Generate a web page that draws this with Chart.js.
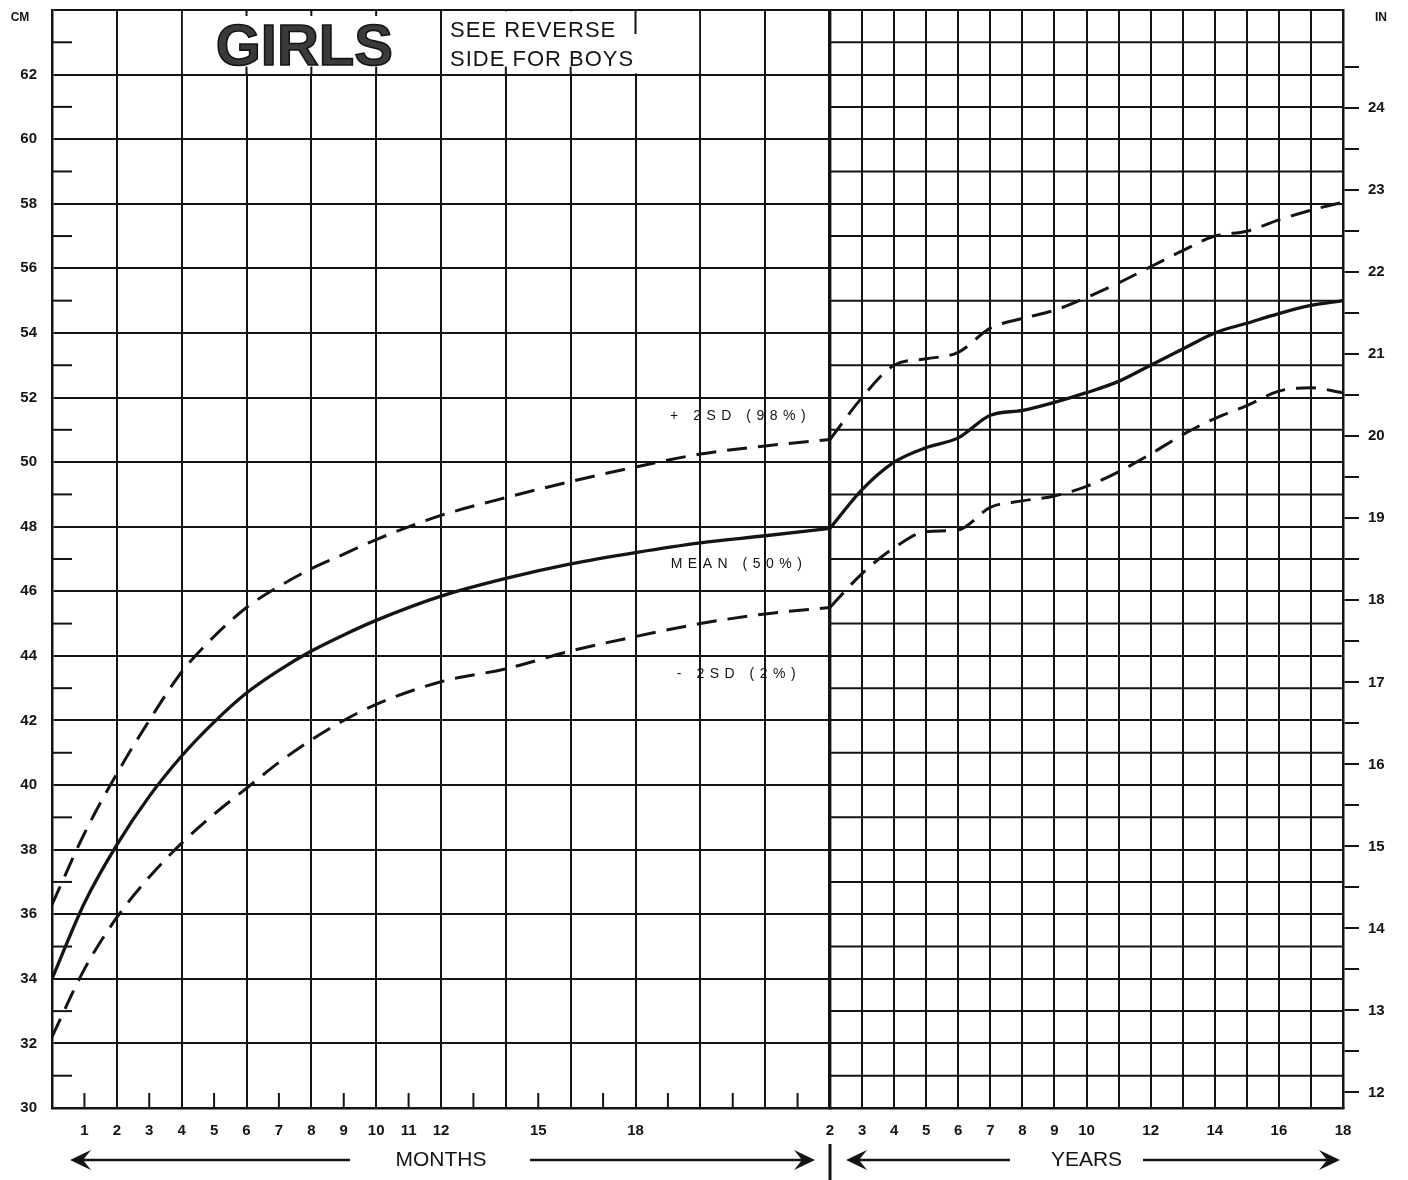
<!DOCTYPE html>
<html><head><meta charset="utf-8">
<script src="https://cdn.jsdelivr.net/npm/chart.js@4.4.1/dist/chart.umd.min.js"></script>
<style>html,body{margin:0;padding:0;background:#fff;}canvas{display:block;}</style>
</head><body>
<canvas id="c" width="1408" height="1180"></canvas>
<script>
// ---------- data ----------
const monthsX     = [0, 1, 2, 3, 4, 5, 6, 7, 8, 9, 10, 12, 14, 16, 18, 20, 22, 24];
const meanMonths  = [34.0, 36.35, 38.15, 39.65, 40.9, 41.95, 42.85, 43.55, 44.15, 44.65, 45.1, 45.85, 46.4, 46.85, 47.2, 47.5, 47.72, 47.95];
const upperMonths = [36.3, 38.5, 40.35, 42.0, 43.5, 44.6, 45.5, 46.15, 46.7, 47.15, 47.6, 48.35, 48.9, 49.4, 49.85, 50.25, 50.5, 50.7];
const lowerMonths = [32.2, 34.3, 35.9, 37.15, 38.2, 39.1, 39.9, 40.7, 41.4, 42.0, 42.5, 43.2, 43.6, 44.15, 44.6, 45.0, 45.3, 45.5];

const yearsX      = [2, 3, 4, 5, 6, 7, 8, 9, 10, 11, 12, 13, 14, 15, 16, 17, 18];
const meanYears   = [47.95, 49.15, 50.0, 50.45, 50.75, 51.45, 51.6, 51.85, 52.15, 52.5, 53.0, 53.5, 54.0, 54.3, 54.6, 54.85, 55.0];
const upperYears  = [50.7, 52.0, 53.0, 53.2, 53.4, 54.15, 54.45, 54.7, 55.1, 55.55, 56.05, 56.55, 57.0, 57.15, 57.5, 57.8, 58.05];
const lowerYears  = [45.5, 46.55, 47.35, 47.85, 47.9, 48.6, 48.8, 48.95, 49.25, 49.7, 50.25, 50.85, 51.35, 51.75, 52.2, 52.3, 52.15];

// ---------- ticks ----------
const cmTicks       = [30, 32, 34, 36, 38, 40, 42, 44, 46, 48, 50, 52, 54, 56, 58, 60, 62, 64];
const cmOddTicks    = [31, 33, 35, 37, 39, 41, 43, 45, 47, 49, 51, 53, 55, 57, 59, 61, 63];
const inchTicks     = [12, 12.5, 13, 13.5, 14, 14.5, 15, 15.5, 16, 16.5, 17, 17.5, 18, 18.5, 19, 19.5, 20, 20.5, 21, 21.5, 22, 22.5, 23, 23.5, 24, 24.5];
const monthTicks    = [0, 1, 2, 3, 4, 5, 6, 7, 8, 9, 10, 11, 12, 13, 14, 15, 16, 17, 18, 19, 20, 21, 22, 23, 24];
const monthLabels   = [1, 2, 3, 4, 5, 6, 7, 8, 9, 10, 11, 12, 15, 18];
const oddMonthTicks = [1, 3, 5, 7, 9, 11, 13, 15, 17, 19, 21, 23];
const yearTicks     = [2, 3, 4, 5, 6, 7, 8, 9, 10, 11, 12, 13, 14, 15, 16, 17, 18];
const yearLabels    = [2, 3, 4, 5, 6, 7, 8, 9, 10, 12, 14, 16, 18];
const CM_PER_INCH = 2.54;
const CM_MIN = 30, CM_MAX = 64;

// ---------- style ----------
const INK = '#141414';
const FONT = '"Liberation Sans", Arial, sans-serif';
Chart.defaults.font.family = FONT;
Chart.defaults.color = INK;

const pts = (xs, ys) => xs.map((x, i) => ({x, y: ys[i]}));
const solid = {borderColor: INK, borderWidth: 3.3, pointRadius: 0, cubicInterpolationMode: 'monotone', fill: false};
const dashed = {borderColor: INK, borderWidth: 3, borderDash: [20, 11], borderCapStyle: 'butt', pointRadius: 0, cubicInterpolationMode: 'monotone', fill: false};

const annotations = [
  {text: '+ 2SD (98%)', month: 21.15, cm: 51.42},
  {text: 'MEAN (50%)',  month: 21.1,  cm: 46.84},
  {text: '- 2SD (2%)',  month: 21.1,  cm: 43.43}
];

function seg(ctx, x1, y1, x2, y2) { ctx.beginPath(); ctx.moveTo(x1, y1); ctx.lineTo(x2, y2); ctx.stroke(); }
function arrowHead(ctx, x, y, dir) {
  ctx.beginPath();
  ctx.moveTo(x, y);
  ctx.lineTo(x + dir * 21, y - 10);
  ctx.lineTo(x + dir * 13, y);
  ctx.lineTo(x + dir * 21, y + 10);
  ctx.closePath();
  ctx.fill();
}

const paper = {
  id: 'paper',
  beforeDatasetsDraw(chart) {
    const {ctx} = chart;
    const {y, xm, xy} = chart.scales;
    ctx.save();
    ctx.strokeStyle = INK;
    ctx.lineWidth = 2;
    // 1 cm lines in the years panel
    for (const v of cmOddTicks) { const py = y.getPixelForValue(v); seg(ctx, xy.left, py, xy.right, py); }
    // inward odd cm ticks on the left edge
    for (const v of cmOddTicks) { const py = y.getPixelForValue(v); seg(ctx, xm.left, py, xm.left + 20, py); }
    // odd month ticks at the bottom
    for (const v of oddMonthTicks) { const px = xm.getPixelForValue(v); seg(ctx, px, y.bottom, px, y.bottom - 15); }

    // title boxes in the top row
    const yTop = y.getPixelForValue(64), yRow = y.getPixelForValue(62);
    const b4 = xm.getPixelForValue(4), b12 = xm.getPixelForValue(12), b20 = xm.getPixelForValue(20);
    ctx.fillStyle = '#fff';
    ctx.fillRect(b4 + 1.2, yTop + 1.3, b12 - b4 - 2.4, yRow - yTop - 2.5);
    ctx.fillRect(b12 + 1.2, yTop + 1.3, b20 - b12 - 2.4, yRow - yTop - 2.5);
    for (const s of [{m: 6, l: 6}, {m: 8, l: 6}, {m: 10, l: 6}, {m: 18, l: 24}]) {
      const px = xm.getPixelForValue(s.m); seg(ctx, px, yTop, px, yTop + s.l);
    }
    for (const m of [6, 8, 10, 14, 16]) {
      const px = xm.getPixelForValue(m); seg(ctx, px, yRow, px, yRow - 8);
    }
    // titles
    ctx.font = 'bold 58px ' + FONT;
    ctx.textAlign = 'center';
    ctx.textBaseline = 'alphabetic';
    ctx.fillStyle = '#3a3a3a';
    ctx.strokeStyle = INK;
    ctx.lineWidth = 1.6;
    ctx.fillText('GIRLS', (b4 + b12) / 2 - 7, yRow - 10);
    ctx.strokeText('GIRLS', (b4 + b12) / 2 - 7, yRow - 10);
    ctx.fillStyle = INK;
    ctx.font = '22px ' + FONT;
    ctx.textAlign = 'left';
    ctx.letterSpacing = '1px';
    ctx.fillText('SEE REVERSE', b12 + 9, yTop + 27);
    ctx.fillText('SIDE FOR BOYS', b12 + 9, yTop + 56);
    ctx.restore();
  },
  afterDraw(chart) {
    const {ctx} = chart;
    const {y, xm, xy} = chart.scales;
    ctx.save();
    ctx.fillStyle = INK;
    ctx.strokeStyle = INK;
    // curve annotations
    ctx.font = '14px ' + FONT;
    ctx.letterSpacing = '5.5px';
    ctx.textAlign = 'center';
    ctx.textBaseline = 'middle';
    for (const a of annotations) {
      ctx.fillText(a.text, xm.getPixelForValue(a.month) + 3, y.getPixelForValue(a.cm));
    }
    ctx.letterSpacing = '0px';
    // unit labels
    ctx.font = 'bold 12px ' + FONT;
    ctx.fillText('CM', 20, 18);
    ctx.fillText('IN', 1381, 18);
    // arrows under the axes
    const ay = 1160;
    ctx.lineWidth = 2.4;
    const ml = xm.left + 18, mr = xm.right - 15;
    seg(ctx, ml + 13, ay, xm.left + 298, ay); arrowHead(ctx, ml, ay, 1);
    seg(ctx, xm.left + 478, ay, mr - 13, ay); arrowHead(ctx, mr, ay, -1);
    const yl = xy.left + 16, yr = xy.right - 3;
    seg(ctx, yl + 13, ay, xy.left + 180, ay); arrowHead(ctx, yl, ay, 1);
    seg(ctx, xy.left + 313, ay, yr - 13, ay); arrowHead(ctx, yr, ay, -1);
    // separator between months and years
    ctx.lineWidth = 3;
    seg(ctx, xm.right, 1144, xm.right, 1180);
    ctx.restore();
  }
};

const tickFont = {size: 15, weight: 'bold'};
const noVPad = s => { s.paddingTop = 0; s.paddingBottom = 0; };

new Chart(document.getElementById('c'), {
  type: 'line',
  data: {
    datasets: [
      {label: '+2SD (98%) months', data: pts(monthsX, upperMonths), xAxisID: 'xm', yAxisID: 'y', ...dashed},
      {label: 'Mean (50%) months', data: pts(monthsX, meanMonths),  xAxisID: 'xm', yAxisID: 'y', ...solid},
      {label: '-2SD (2%) months',  data: pts(monthsX, lowerMonths), xAxisID: 'xm', yAxisID: 'y', ...dashed},
      {label: '+2SD (98%) years',  data: pts(yearsX, upperYears),   xAxisID: 'xy', yAxisID: 'y', ...dashed},
      {label: 'Mean (50%) years',  data: pts(yearsX, meanYears),    xAxisID: 'xy', yAxisID: 'y', ...solid},
      {label: '-2SD (2%) years',   data: pts(yearsX, lowerYears),   xAxisID: 'xy', yAxisID: 'y', ...dashed}
    ]
  },
  options: {
    responsive: false,
    animation: false,
    events: [],
    layout: {padding: {top: 10, left: 0, right: 0, bottom: 0}},
    plugins: {legend: {display: false}, tooltip: {enabled: false}},
    scales: {
      xm: {
        type: 'linear', position: 'bottom', stack: 'x', stackWeight: 778,
        min: 0, max: 24,
        afterBuildTicks: s => { s.ticks = monthTicks.map(v => ({value: v})); },
        afterFit: s => { s.height = 72; },
        ticks: {autoSkip: false, maxRotation: 0, minRotation: 0, padding: 14, font: tickFont, color: INK,
                callback: v => monthLabels.includes(v) ? String(v) : ''},
        grid: {drawTicks: false, lineWidth: 2, color: c => (c.tick && c.tick.value % 2 === 0) ? INK : 'rgba(0,0,0,0)'},
        border: {display: true, color: INK, width: 2.5},
        title: {display: true, text: 'MONTHS', font: {size: 21}, color: INK, padding: {top: 0, bottom: 7}}
      },
      xy: {
        type: 'linear', position: 'bottom', stack: 'x', stackWeight: 513,
        min: 2, max: 18,
        afterBuildTicks: s => { s.ticks = yearTicks.map(v => ({value: v})); },
        afterFit: s => { s.height = 72; },
        ticks: {autoSkip: false, maxRotation: 0, minRotation: 0, padding: 14, font: tickFont, color: INK,
                callback: v => yearLabels.includes(v) ? String(v) : ''},
        grid: {drawTicks: false, color: INK, lineWidth: c => (c.tick && c.tick.value === 2) ? 3.4 : 2},
        border: {display: true, color: INK, width: 2.5},
        title: {display: true, text: 'YEARS', font: {size: 21}, color: INK, padding: {top: 0, bottom: 7}}
      },
      y: {
        type: 'linear', position: 'left', min: CM_MIN, max: CM_MAX,
        afterBuildTicks: s => { s.ticks = cmTicks.map(v => ({value: v})); },
        afterFit: s => { s.width = 52; noVPad(s); },
        ticks: {padding: 15, font: tickFont, color: INK, callback: v => v === 64 ? '' : String(v)},
        grid: {drawTicks: false, color: INK, lineWidth: 2},
        border: {display: true, color: INK, width: 2.5}
      },
      yin: {
        type: 'linear', position: 'right', min: CM_MIN / CM_PER_INCH, max: CM_MAX / CM_PER_INCH,
        afterBuildTicks: s => { s.ticks = inchTicks.map(v => ({value: v})); },
        afterFit: s => { s.width = 65; noVPad(s); },
        ticks: {padding: 9, font: tickFont, color: INK, autoSkip: false,
                callback: v => Number.isInteger(v) ? String(v) : ''},
        grid: {drawOnChartArea: false, drawTicks: true, tickLength: 16, color: INK, lineWidth: 2},
        border: {display: true, color: INK, width: 2.5}
      }
    }
  },
  plugins: [paper]
});
</script>
</body></html>
